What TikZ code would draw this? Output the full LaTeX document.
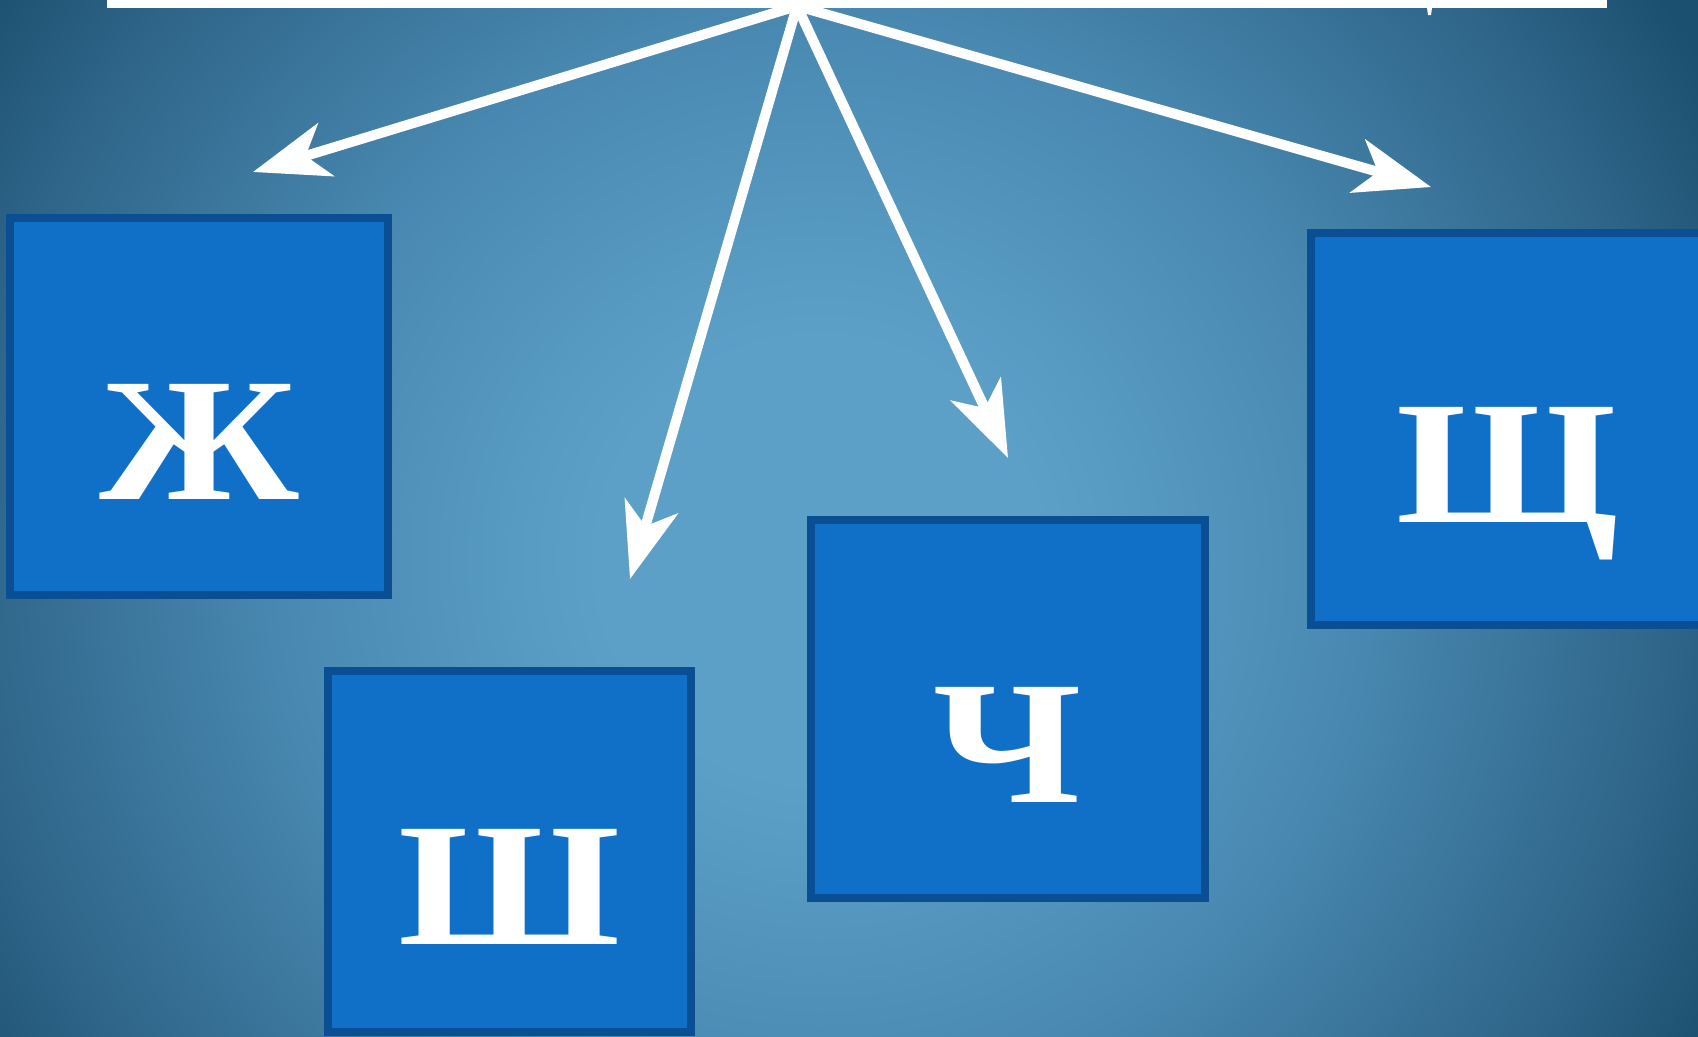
\documentclass[tikz,border=0pt]{standalone}
\usepackage{fontspec}
\newfontfamily\glyphfont{Liberation Serif}[FakeStretch=1.15]
\usetikzlibrary{arrows.meta}
\definecolor{glowA}{RGB}{92,160,200}
\definecolor{glowB}{RGB}{74,138,178}
\definecolor{glowC}{RGB}{46,100,136}
\definecolor{glowD}{RGB}{28,80,112}
\definecolor{boxfill}{RGB}{16,112,200}
\definecolor{boxedge}{RGB}{10,78,148}
\pgfdeclareradialshading{glow}{\pgfpoint{0bp}{0bp}}{color(0bp)=(glowA); color(5bp)=(glowA); color(12bp)=(glowB); color(19.5bp)=(glowC); color(23bp)=(glowD); color(50bp)=(glowD)}
\begin{document}
\begin{tikzpicture}[x=0.01cm,y=-0.01cm,
  letterbox/.style={draw=boxedge,fill=boxfill,line width=0.08cm,inner sep=0pt},
  glyph/.style={text=white,font=\glyphfont\bfseries\fontsize{50}{54}\selectfont,anchor=base,yshift=-0.93cm,inner sep=0pt},
  link/.style={draw=white,line width=0.1cm,-{Stealth[length=0.76cm,width=0.55cm,inset=0.21cm]}}]
\useasboundingbox (0,0) rectangle (1698,1036);
\clip (0,0) rectangle (1698,1036);
\shade[shading=glow] (820,560) circle[radius=1100];
\fill[white] (107,0) rectangle (1607,8);
\fill[white] (1427,8) -- (1432,8) -- (1431,15) -- (1428,15) -- cycle;
\node[letterbox,minimum width=3.78cm,minimum height=3.77cm] (zhe) at (199,406.5) {};
\node[letterbox,minimum width=3.63cm,minimum height=3.61cm] (sha) at (509.5,851.5) {};
\node[letterbox,minimum width=3.94cm,minimum height=3.78cm] (che) at (1008,709) {};
\node[letterbox,minimum width=3.92cm,minimum height=3.92cm] (shcha) at (1507,429) {};
\node[glyph] (zhe-t) at (zhe.center) {Ж};
\node[glyph] (sha-t) at (sha.center) {Ш};
\node[glyph] (che-t) at (che.center) {Ч};
\node[glyph] (shcha-t) at (shcha.center) {Щ};
\coordinate (hub) at (797,6);
\coordinate (zhe-tip) at (253,172);
\coordinate (sha-tip) at (630,579);
\coordinate (che-tip) at (1008,458);
\coordinate (shcha-tip) at (1431,187);
\draw[link] (hub) -- (zhe-tip);
\draw[link] (hub) -- (sha-tip);
\draw[link] (hub) -- (che-tip);
\draw[link] (hub) -- (shcha-tip);
\end{tikzpicture}
\end{document}
